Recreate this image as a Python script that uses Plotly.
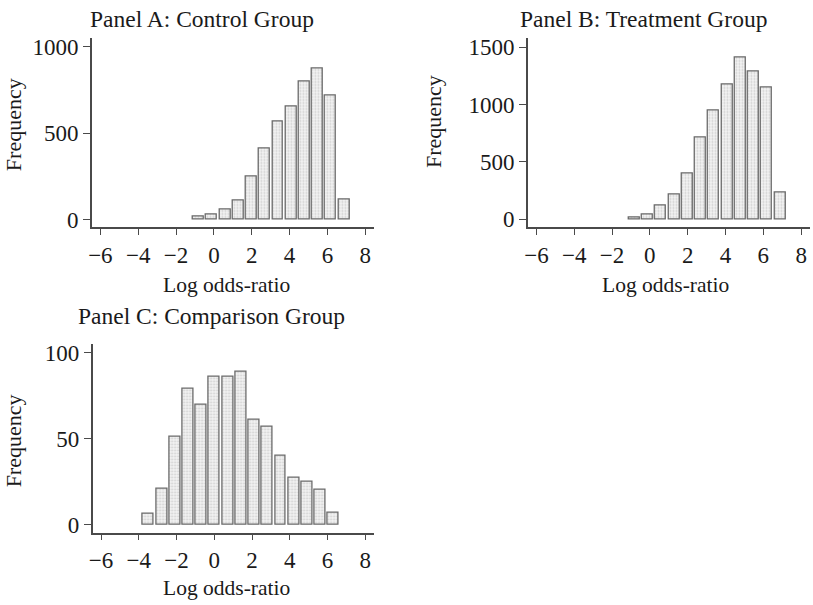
import plotly.graph_objects as go

W, H = 813, 605

# ---- data ----
bins_ab = [-0.82, -0.12, 0.58, 1.28, 1.98, 2.68, 3.38, 4.08, 4.78, 5.48, 6.18, 6.88]
control = [15, 28, 57, 113, 249, 412, 566, 651, 799, 872, 716, 115]
treatment = [18, 38, 118, 213, 399, 716, 945, 1175, 1414, 1290, 1149, 236]
bins_c = [-3.49, -2.79, -2.09, -1.39, -0.69, 0.01, 0.71, 1.41, 2.11, 2.81, 3.51, 4.21, 4.91, 5.61, 6.31]
comparison = [6, 21, 51, 79, 70, 86, 86, 89, 61, 57, 40, 27, 25, 20, 7]
x_ticks = [-6, -4, -2, 0, 2, 4, 6, 8]
yticks_a = [0, 500, 1000]
yticks_b = [0, 500, 1000, 1500]
yticks_c = [0, 50, 100]
titles = ["Panel A: Control Group", "Panel B: Treatment Group", "Panel C: Comparison Group"]
xlabel = "Log odds-ratio"
ylabel = "Frequency"

FONT = "Liberation Serif, Times New Roman, serif"
TXT = "#1a1a1a"
AX = "#4a4a4a"

def px(x):
    return x / W

def py(y):
    return 1 - y / H

bar_style = dict(
    width=0.58,
    marker=dict(
        color="#ececec",
        line=dict(color="#6a6a6a", width=1.3),
        pattern=dict(shape=".", bgcolor="#f4f4f4", fgcolor="#a8a8a8", size=3, solidity=0.35),
    ),
    showlegend=False,
    hoverinfo="x+y",
)

fig = go.Figure()
fig.add_trace(go.Bar(x=bins_ab, y=control, xaxis="x", yaxis="y", **bar_style))
fig.add_trace(go.Bar(x=bins_ab, y=treatment, xaxis="x2", yaxis="y2", **bar_style))
fig.add_trace(go.Bar(x=bins_c, y=comparison, xaxis="x3", yaxis="y3", **bar_style))

def xax(domain, anchor):
    return dict(
        domain=domain, anchor=anchor, range=[-6.45, 8.47],
        tickmode="array", tickvals=x_ticks,
        ticks="outside", ticklen=6, tickwidth=1.3, tickcolor=AX,
        showline=True, linecolor=AX, linewidth=1.5,
        showgrid=False, zeroline=False,
        tickfont=dict(family=FONT, size=23, color=TXT),
    )

def yax(domain, anchor, rng, tv):
    return dict(
        domain=domain, anchor=anchor, range=rng,
        tickmode="array", tickvals=tv,
        ticks="outside", ticklen=7, tickwidth=1.3, tickcolor=AX,
        showline=True, linecolor=AX, linewidth=1.5,
        showgrid=False, zeroline=False,
        tickfont=dict(family=FONT, size=23, color=TXT),
    )

top_dom = [py(226.7), py(35)]
bot_dom = [py(536.7), py(345)]

fig.update_layout(
    width=W, height=H,
    margin=dict(l=0, r=0, t=0, b=0),
    paper_bgcolor="white", plot_bgcolor="white",
    bargap=0,
    xaxis=xax([px(88.3), px(372)], "y"),
    yaxis=yax(top_dom, "x", [-45, 1047], yticks_a),
    xaxis2=xax([px(526.5), px(810)], "y2"),
    yaxis2=yax(top_dom, "x2", [-72, 1578], yticks_b),
    xaxis3=xax([px(89), px(372)], "y3"),
    yaxis3=yax(bot_dom, "x3", [-4.8, 105.3], yticks_c),
)

def ann(text, x, y, size=22, angle=0):
    fig.add_annotation(
        text=text, x=px(x), y=py(y), xref="paper", yref="paper",
        xanchor="center", yanchor="middle", showarrow=False, textangle=angle,
        font=dict(family=FONT, size=size, color=TXT),
    )

ann(titles[0], 199, 15, size=23.5)
ann(titles[1], 643, 15, size=23.5)
ann(titles[2], 209, 317, size=23.5)
ann(ylabel, 9, 122, angle=-90)
ann(ylabel, 431, 119, angle=-90)
ann(ylabel, 9, 443, angle=-90)
ann(xlabel, 224, 285, size=21.5)
ann(xlabel, 665, 285, size=21.5)
ann(xlabel, 224, 593, size=21.5)

fig.write_html(
    "out.html",
    config={"displayModeBar": False},
    post_script="document.body.style.margin='0';document.body.style.overflow='hidden';",
)
